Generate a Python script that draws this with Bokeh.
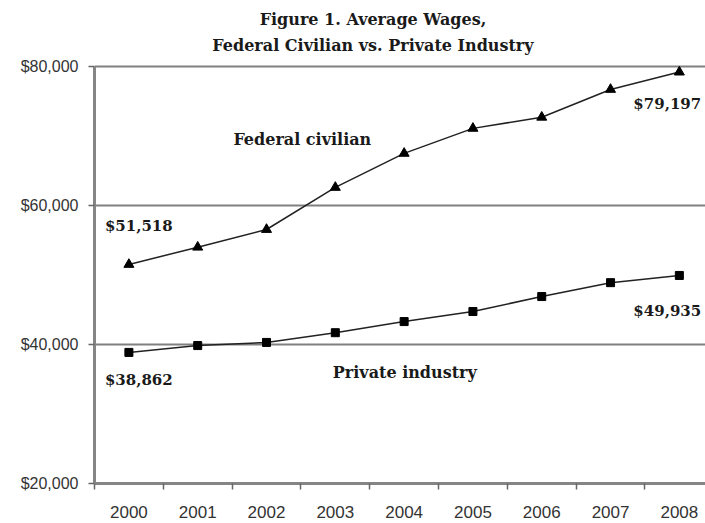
from bokeh.plotting import figure
from bokeh.models import FixedTicker, NumeralTickFormatter, Range1d
from bokeh.core.properties import value
from bokeh.embed import file_html
from bokeh.resources import INLINE

years = ["2000", "2001", "2002", "2003", "2004", "2005", "2006", "2007", "2008"]
federal = [51518, 54000, 56550, 62600, 67500, 71100, 72700, 76700, 79197]
private = [38862, 39850, 40300, 41700, 43300, 44750, 46900, 48900, 49935]
y_ticks = [20000, 40000, 60000, 80000]
title_lines = ["Figure 1. Average Wages,", "Federal Civilian vs. Private Industry"]
series_names = ["Federal civilian", "Private industry"]

xs = list(range(len(years)))

p = figure(width=705, height=523, output_backend="svg", toolbar_location=None,
           x_range=Range1d(-0.5, 8.38), y_range=Range1d(20000, 89500),
           min_border_left=94, min_border_right=0, min_border_top=0, min_border_bottom=40)
p.outline_line_color = None
p.background_fill_color = "white"

# axes
p.xaxis.ticker = FixedTicker(ticks=xs, minor_ticks=[i - 0.5 for i in range(len(years) + 1)])
p.xaxis.major_label_overrides = {i: y for i, y in enumerate(years)}
p.xaxis.major_tick_out = 0
p.xaxis.major_tick_in = 0
p.xaxis.minor_tick_out = 6
p.xaxis.minor_tick_in = 0
p.xaxis.minor_tick_line_color = "#666666"
p.xaxis.minor_tick_line_width = 1.5
p.xaxis.axis_line_color = "#858585"
p.xaxis.axis_line_width = 3
p.xaxis.major_label_standoff = 16
p.xaxis.major_label_text_font = "Liberation Sans"
p.xaxis.major_label_text_font_size = "17px"
p.xaxis.major_label_text_color = "#333333"

p.yaxis.ticker = FixedTicker(ticks=y_ticks)
p.yaxis.bounds = (y_ticks[0], y_ticks[-1])
p.yaxis.formatter = NumeralTickFormatter(format="$0,0")
p.yaxis.major_tick_out = 6
p.yaxis.major_tick_in = 0
p.yaxis.major_tick_line_color = "#666666"
p.yaxis.major_tick_line_width = 1.5
p.yaxis.minor_tick_line_color = None
p.yaxis.axis_line_color = "#858585"
p.yaxis.axis_line_width = 3
p.yaxis.major_label_standoff = 10
p.yaxis.major_label_text_font = "Liberation Sans"
p.yaxis.major_label_text_font_size = "16px"
p.yaxis.major_label_text_color = "#333333"

p.xgrid.grid_line_color = None
p.ygrid.ticker = FixedTicker(ticks=y_ticks)
p.ygrid.grid_line_color = "#808080"
p.ygrid.grid_line_width = 2

# series
p.line(xs, federal, line_color="#222222", line_width=1.5)
p.scatter(xs, federal, marker="triangle", size=10, fill_color="black", line_color="black")
p.line(xs, private, line_color="#222222", line_width=1.5)
p.scatter(xs, private, marker="square", size=8, fill_color="black", line_color="black")

serif = "DejaVu Serif"

def lab(x, y, text, size, xo=0, yo=0, align="left"):
    p.text(x=[x], y=[y], text=[text], x_offset=xo, y_offset=yo,
           text_font=value(serif), text_font_style="bold", text_font_size=size,
           text_align=align, text_baseline="middle", text_color="#1a1a1a")

# value labels at first/last points (offsets in screen pixels, +y = down)
lab(xs[0], federal[0], "${:,}".format(federal[0]), "15px", xo=-24, yo=-38)
lab(xs[0], private[0], "${:,}".format(private[0]), "15px", xo=-24, yo=28)
lab(xs[-1], federal[-1], "${:,}".format(federal[-1]), "15px", xo=-46, yo=32)
lab(xs[-1], private[-1], "${:,}".format(private[-1]), "15px", xo=-46, yo=36)

# series names
lab(2.52, 69500, series_names[0], "16px", align="center")
lab(4.01, 35970, series_names[1], "16px", align="center")

# title
lab(3.547, 86760, title_lines[0], "16px", align="center")
lab(3.547, 83020, title_lines[1], "16px", align="center")

open("out.html", "w").write(file_html(p, INLINE))
